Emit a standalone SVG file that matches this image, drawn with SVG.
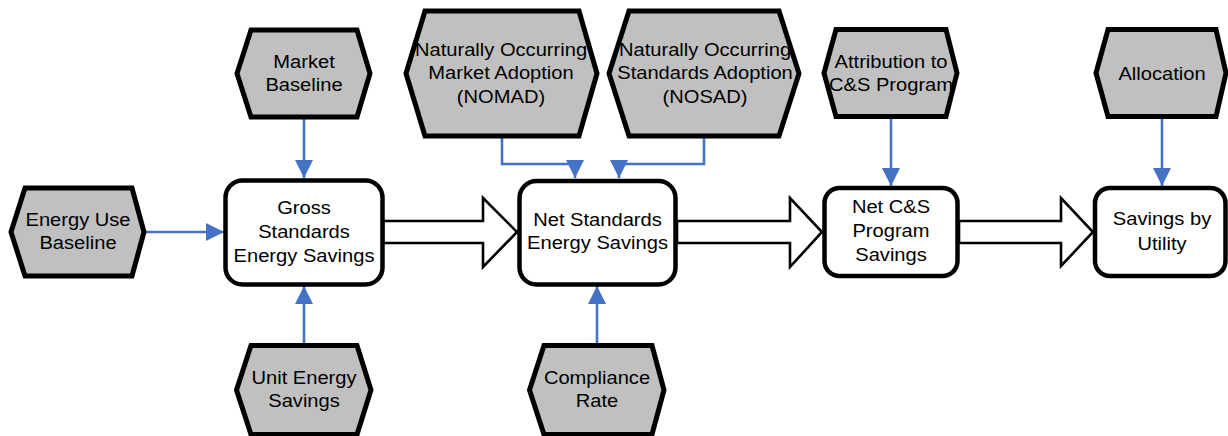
<svg xmlns="http://www.w3.org/2000/svg" width="1228" height="436" viewBox="0 0 1228 436">
<style>
.hex{fill:#C0C0C0;stroke:#000;stroke-width:5;stroke-linejoin:miter}
.box{fill:#fff;stroke:#000;stroke-width:4.5}
.big{fill:#fff;stroke:#000;stroke-width:2.6;stroke-linejoin:miter}
.con{fill:none;stroke:#4472C4;stroke-width:2.6;marker-end:url(#ah)}
text{font-family:"Liberation Sans",Arial,sans-serif;font-size:18.3px;fill:#000;text-anchor:middle}
</style>
<defs>
<marker id="ah" markerUnits="userSpaceOnUse" markerWidth="18" markerHeight="18" refX="18" refY="9" orient="auto">
<path d="M0,0 L18,9 L0,18 z" fill="#4472C4"/>
</marker>
</defs>
<rect width="1228" height="436" fill="#fff"/>
<g id="connectors">
<polygon class="big" points="383,221 483,221 483,198 517,232 483,267 483,243 383,243"/>
<polygon class="big" points="677,221 790,221 790,198 822,232 790,267 790,243 677,243"/>
<polygon class="big" points="959,221 1061,221 1061,198 1093,232 1061,266 1061,243 959,243"/>
<path class="con" d="M304,119 V178"/>
<path class="con" d="M146,232 H224"/>
<path class="con" d="M304,345 V286"/>
<path class="con" d="M502,137 V164 H575 V178"/>
<path class="con" d="M704,137 V164 H619 V178"/>
<path class="con" d="M597,345 V286"/>
<path class="con" d="M891,119 V186"/>
<path class="con" d="M1162,119 V186"/>
</g>
<g id="market-baseline">
<polygon class="hex" points="237,73.5 251,30 357,30 370,73.5 357,117 251,117"/>
<g transform="translate(304 0) scale(1.1 1)"><text x="0" y="68">Market</text><text x="0" y="91">Baseline</text></g>
</g>
<g id="energy-use-baseline">
<polygon class="hex" points="11,232 25,188 132,188 144,232 132,276 25,276"/>
<g transform="translate(78 0) scale(1.1 1)"><text x="0" y="226">Energy Use</text><text x="0" y="249">Baseline</text></g>
</g>
<g id="unit-energy-savings">
<polygon class="hex" points="236.5,390 251,345.5 357,345.5 371,390 357,434.5 251,434.5"/>
<g transform="translate(304 0) scale(1.1 1)"><text x="0" y="384">Unit Energy</text><text x="0" y="407">Savings</text></g>
</g>
<g id="nomad">
<polygon class="hex" points="406,73.5 425,11 579,11 597,73.5 579,136 425,136"/>
<g transform="translate(501 0) scale(1.1 1)"><text x="0" y="56">Naturally Occurring</text><text x="0" y="79.5">Market Adoption</text><text x="0" y="103">(NOMAD)</text></g>
</g>
<g id="nosad">
<polygon class="hex" points="609,73.5 629,11 779,11 799,73.5 779,136 629,136"/>
<g transform="translate(705 0) scale(1.1 1)"><text x="0" y="56">Naturally Occurring</text><text x="0" y="79.5">Standards Adoption</text><text x="0" y="103">(NOSAD)</text></g>
</g>
<g id="compliance-rate">
<polygon class="hex" points="529.5,390 544,345.5 652,345.5 664,390 652,434.5 544,434.5"/>
<g transform="translate(597 0) scale(1.1 1)"><text x="0" y="384">Compliance</text><text x="0" y="407">Rate</text></g>
</g>
<g id="attribution">
<polygon class="hex" points="824,73 836,29.5 946,29.5 957,73 946,116.5 836,116.5"/>
<g transform="translate(891 0) scale(1.1 1)"><text x="0" y="68">Attribution to</text><text x="0" y="91">C&amp;S Program</text></g>
</g>
<g id="allocation">
<polygon class="hex" points="1096,73 1108,29.5 1216,29.5 1226,73 1216,116.5 1108,116.5"/>
<g transform="translate(1162 0) scale(1.1 1)"><text x="0" y="80">Allocation</text></g>
</g>
<g id="gross-savings">
<rect class="box" x="225.5" y="180.5" width="157" height="104" rx="17"/>
<g transform="translate(304 0) scale(1.1 1)"><text x="0" y="214">Gross</text><text x="0" y="238">Standards</text><text x="0" y="262">Energy Savings</text></g>
</g>
<g id="net-standards-savings">
<rect class="box" x="519.5" y="181" width="156" height="103.5" rx="17"/>
<g transform="translate(597.5 0) scale(1.1 1)"><text x="0" y="226">Net Standards</text><text x="0" y="249.5">Energy Savings</text></g>
</g>
<g id="net-cs-savings">
<rect class="box" x="824.5" y="188" width="133" height="88" rx="15"/>
<g transform="translate(891 0) scale(1.1 1)"><text x="0" y="213">Net C&amp;S</text><text x="0" y="237">Program</text><text x="0" y="261">Savings</text></g>
</g>
<g id="savings-by-utility">
<rect class="box" x="1095" y="188" width="130.5" height="88" rx="15"/>
<g transform="translate(1162 0) scale(1.1 1)"><text x="0" y="225">Savings by</text><text x="0" y="250">Utility</text></g>
</g>
</svg>
